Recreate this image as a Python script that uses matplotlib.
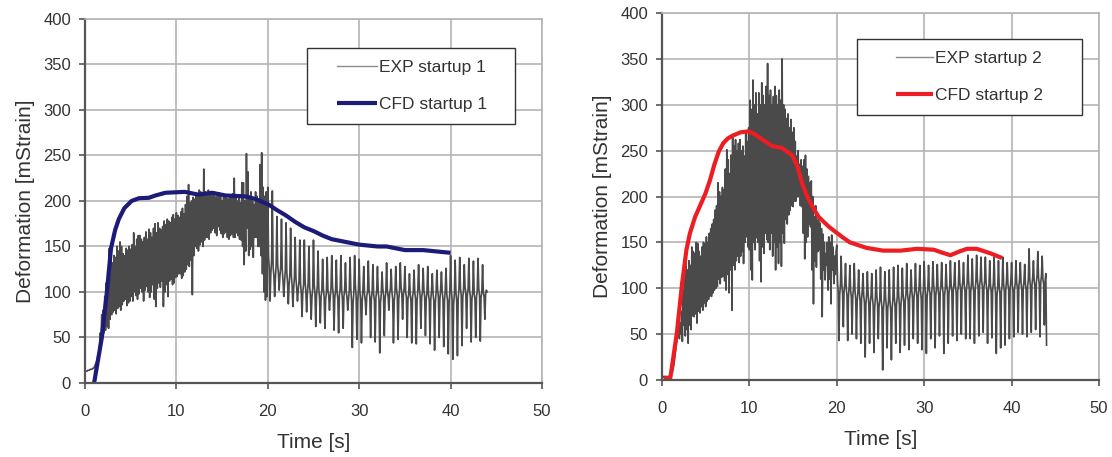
import numpy as np
import matplotlib
matplotlib.use("Agg")
import matplotlib.pyplot as plt
from matplotlib.legend_handler import HandlerLine2D

plt.rcParams["font.family"] = ["Liberation Sans", "DejaVu Sans"]

## Measured signal, read off the picture: 12 readings per second from t = 0 ##
## (one row per second) ##
exp_rate = 12

exp1 = [
    12, 13, 13, 13, 14, 14, 14, 15, 15, 15, 16, 16,
    17, 19, 21, 23, 26, 30, 34, 40, 55, 45, 75, 58,
    80, 55, 95, 58, 110, 62, 125, 60, 148, 70, 140, 75,
    132, 78, 140, 80, 138, 76, 150, 82, 145, 84, 155, 80,
    150, 86, 142, 90, 140, 92, 148, 85, 146, 88, 150, 90,
    147, 95, 152, 90, 165, 100, 150, 96, 158, 92, 162, 98,
    162, 104, 158, 100, 155, 90, 160, 102, 166, 106, 158, 100,
    169, 94, 165, 100, 160, 108, 170, 92, 175, 84, 165, 104,
    176, 110, 170, 105, 168, 112, 172, 84, 178, 100, 174, 108,
    180, 95, 178, 112, 176, 114, 182, 108, 185, 110, 180, 116,
    187, 117, 184, 120, 182, 120, 188, 115, 192, 118, 186, 122,
    196, 125, 205, 130, 218, 128, 198, 135, 200, 97, 204, 140,
    202, 150, 206, 148, 205, 145, 212, 152, 210, 155, 208, 150,
    235, 157, 210, 160, 206, 160, 212, 158, 208, 165, 210, 168,
    207, 170, 210, 165, 204, 162, 208, 172, 209, 168, 205, 164,
    200, 160, 204, 164, 206, 166, 203, 160, 202, 158, 206, 162,
    204, 164, 208, 160, 225, 160, 206, 165, 200, 162, 204, 158,
    198, 157, 220, 150, 220, 130, 200, 145, 252, 170, 232, 140,
    205, 147, 210, 150, 200, 138, 196, 160, 210, 160, 205, 150,
    202, 150, 240, 140, 253, 120, 215, 100, 205, 91, 210, 95,
    215, 140, 125, 90, 120, 135, 211, 128, 118, 95, 115, 130,
    183, 130, 120, 102, 118, 128, 180, 125, 112, 95, 110, 124,
    176, 122, 110, 87, 108, 120, 170, 118, 106, 84, 104, 116,
    160, 115, 104, 90, 102, 112, 157, 110, 98, 73, 100, 108,
    157, 112, 100, 78, 98, 110, 150, 106, 96, 70, 94, 104,
    157, 108, 98, 62, 96, 106, 145, 104, 92, 66, 95, 102,
    136, 104, 94, 60, 92, 100, 138, 102, 96, 80, 94, 104,
    140, 106, 96, 58, 94, 102, 135, 100, 92, 55, 96, 104,
    140, 102, 92, 60, 95, 104, 132, 100, 94, 80, 92, 102,
    138, 104, 90, 39, 88, 100, 140, 108, 95, 48, 90, 102,
    136, 100, 92, 44, 90, 104, 128, 98, 90, 75, 96, 100,
    134, 102, 94, 50, 92, 100, 130, 98, 90, 45, 94, 102,
    128, 100, 92, 33, 88, 98, 122, 104, 96, 52, 92, 100,
    132, 102, 95, 80, 98, 104, 125, 100, 92, 44, 90, 100,
    128, 104, 96, 48, 92, 102, 132, 106, 98, 70, 96, 104,
    128, 100, 94, 50, 92, 98, 120, 98, 90, 44, 94, 100,
    124, 100, 92, 43, 90, 102, 130, 104, 96, 60, 94, 100,
    126, 102, 94, 52, 92, 100, 128, 98, 90, 43, 92, 102,
    120, 98, 90, 36, 88, 100, 124, 102, 94, 50, 92, 104,
    122, 100, 92, 40, 90, 102, 126, 98, 90, 32, 88, 100,
    140, 102, 92, 26, 86, 98, 135, 100, 90, 30, 92, 104,
    138, 104, 96, 41, 94, 102, 130, 106, 98, 60, 96, 104,
    137, 102, 94, 45, 92, 100, 134, 98, 92, 50, 94, 102,
    137, 104, 96, 46, 94, 100, 130, 100, 94, 70, 98, 102,
    100,
]

exp2 = [
    3, 4, 3, 4, 3, 4, 3, 4, 3, 4, 3, 4,
    5, 6, 8, 11, 15, 20, 28, 34, 40, 46, 52, 48,
    45, 62, 50, 75, 42, 98, 60, 110, 48, 142, 55, 120,
    40, 130, 60, 125, 55, 145, 70, 140, 69, 138, 72, 150,
    62, 149, 75, 140, 73, 135, 80, 145, 76, 150, 84, 148,
    80, 156, 86, 150, 88, 160, 92, 165, 91, 170, 95, 175,
    98, 185, 100, 190, 102, 215, 110, 205, 105, 200, 112, 210,
    113, 207, 108, 230, 98, 251, 115, 240, 95, 225, 120, 245,
    76, 265, 125, 255, 120, 262, 130, 250, 135, 258, 128, 262,
    135, 250, 140, 255, 127, 244, 150, 270, 156, 260, 145, 275,
    142, 305, 120, 295, 109, 327, 150, 300, 142, 313, 155, 290,
    150, 313, 130, 300, 107, 324, 145, 310, 138, 300, 160, 320,
    153, 345, 150, 310, 142, 316, 160, 300, 135, 309, 150, 320,
    120, 310, 145, 300, 127, 316, 150, 305, 124, 350, 160, 300,
    149, 295, 175, 285, 170, 290, 180, 275, 185, 284, 190, 270,
    189, 275, 195, 260, 195, 244, 200, 250, 200, 235, 190, 240,
    189, 233, 160, 240, 132, 245, 150, 230, 156, 222, 170, 215,
    167, 217, 120, 200, 83, 178, 130, 190, 123, 174, 140, 180,
    142, 171, 110, 165, 69, 159, 120, 150, 109, 138, 125, 150,
    98, 156, 110, 150, 83, 158, 120, 145, 105, 135, 115, 140,
    147, 108, 96, 43, 92, 104, 135, 104, 94, 58, 96, 106,
    127, 100, 92, 43, 90, 102, 125, 98, 90, 50, 92, 100,
    127, 98, 88, 45, 86, 96, 120, 96, 86, 40, 88, 98,
    116, 92, 84, 25, 82, 94, 118, 94, 82, 40, 84, 92,
    116, 90, 80, 30, 78, 90, 120, 92, 82, 45, 80, 88,
    123, 88, 78, 11, 76, 88, 118, 90, 80, 35, 78, 86,
    120, 86, 76, 22, 78, 88, 123, 90, 80, 40, 82, 90,
    125, 92, 82, 30, 80, 92, 122, 94, 84, 38, 86, 94,
    127, 96, 86, 33, 88, 98, 120, 98, 88, 45, 90, 98,
    127, 100, 90, 40, 92, 102, 125, 98, 88, 33, 90, 100,
    129, 102, 92, 29, 90, 100, 125, 100, 94, 45, 92, 102,
    129, 104, 94, 35, 92, 102, 126, 100, 92, 48, 96, 104,
    128, 102, 94, 29, 92, 100, 126, 104, 96, 40, 94, 102,
    130, 104, 96, 48, 98, 106, 128, 102, 94, 43, 96, 104,
    130, 106, 98, 50, 100, 108, 128, 104, 96, 45, 98, 106,
    136, 108, 98, 45, 96, 106, 132, 104, 96, 40, 98, 108,
    136, 110, 100, 48, 102, 110, 134, 108, 100, 52, 100, 108,
    134, 106, 98, 40, 96, 104, 130, 104, 96, 46, 98, 106,
    134, 104, 94, 29, 92, 102, 130, 102, 94, 35, 96, 104,
    134, 106, 96, 38, 98, 108, 128, 104, 98, 45, 100, 108,
    128, 104, 96, 47, 98, 106, 130, 106, 100, 52, 102, 110,
    128, 106, 98, 50, 100, 108, 126, 104, 98, 47, 102, 110,
    143, 110, 100, 52, 104, 112, 130, 108, 102, 55, 106, 114,
    140, 112, 104, 47, 106, 114, 135, 110, 104, 60, 108, 116,
    38,
]

## CFD curves ##
cfd1_t = [1.0, 1.85, 2.4, 2.85, 3.3, 3.7, 4.3, 5.1, 5.9, 7.0, 7.7, 8.8, 10.9, 12.4,
          13.9, 15.4, 17.6, 18.7, 20.1, 21, 22, 23, 24, 25, 26, 27, 28, 29, 30, 31,
          32, 33, 34, 35, 36, 37, 38, 39, 40]
cfd1_y = [0, 50, 100, 148, 168, 180, 192, 200, 203, 203.5, 206, 209, 210, 207,
          209, 206, 205, 202, 196, 190, 184, 177, 171, 167, 162, 158, 156, 154, 152, 151,
          150, 150, 148, 146, 146, 146, 145, 144, 143]

cfd2_t = [0.2, 0.95, 1.7, 2.3, 2.8, 3.2, 3.8, 4.5, 5.0, 5.5, 6.0, 6.5, 7.0, 7.5,
          8.0, 9.0, 9.9, 10.6, 11.5, 12.6, 13.7, 14.9, 15.5, 16.0, 16.8, 17.9,
          19.1, 20.6, 21.5, 23.4, 25.3, 27.3, 29.2, 31.1, 32.0, 33.0, 34.0, 34.9,
          36.0, 37.6, 38.9]
cfd2_y = [2, 2, 51, 105, 142, 160, 178, 193, 204, 218, 235, 249, 258, 263,
          266, 270, 271, 268, 262, 255, 253, 245, 233, 215, 196, 178,
          167, 156, 150, 144, 141, 141, 143, 142, 139, 136, 140, 143,
          143, 138, 133]

x_ticks = [0, 10, 20, 30, 40, 50]
y_ticks = [0, 50, 100, 150, 200, 250, 300, 350, 400]


def style_axes(ax):
    ax.set_xlim(0, 50)
    ax.set_ylim(0, 400)
    ax.set_xticks(x_ticks)
    ax.set_yticks(y_ticks)
    ax.grid(True, color="#b4b4b4", lw=1.2)
    ax.set_axisbelow(True)
    for s in ["top", "right"]:
        ax.spines[s].set_color("#b4b4b4")
        ax.spines[s].set_linewidth(1.2)
    for s in ["left", "bottom"]:
        ax.spines[s].set_color("#555555")
        ax.spines[s].set_linewidth(1.6)
    ax.tick_params(direction="out", length=4, width=1.2, color="#555555",
                   labelsize=12, labelcolor="#333333")
    ax.tick_params(axis="x", pad=11)
    ax.tick_params(axis="y", pad=6)
    ax.set_xlabel("Time [s]", fontsize=15, color="#333333", labelpad=10)
    ax.set_ylabel("Deformation [mStrain]", fontsize=15, color="#333333", labelpad=6)


def draw_panel(ax, exp, cfd_t, cfd_y, cfd_color, n, bbox, xpad, hlen):
    t = np.arange(len(exp)) / exp_rate
    h_exp, = ax.plot(t, exp, color="#4a4a4a", lw=1.2, label="EXP startup %d" % n)
    h_cfd, = ax.plot(cfd_t, cfd_y, color=cfd_color, lw=3, label="CFD startup %d" % n,
                     solid_capstyle="butt", solid_joinstyle="round")
    style_axes(ax)
    leg = ax.legend(handles=[h_exp, h_cfd], loc="upper left", bbox_to_anchor=bbox,
                    mode="expand", borderaxespad=0, fontsize=12.5, fancybox=False,
                    framealpha=1, edgecolor="#333333", borderpad=0.7,
                    labelspacing=1.25, handlelength=hlen, handletextpad=0.12,
                    handler_map={h_exp: HandlerLine2D(xpad=xpad),
                                 h_cfd: HandlerLine2D(xpad=xpad)})
    leg.get_frame().set_linewidth(1.0)
    leg.get_lines()[0].set_linewidth(1.0)
    leg.get_lines()[0].set_color("#8a8a8a")
    for txt in leg.get_texts():
        txt.set_color("#333333")


fig = plt.figure(figsize=(11.12, 4.57), dpi=100)
ax1 = fig.add_axes([0.0764, 0.162, 0.411, 0.7965])
ax2 = fig.add_axes([0.5953, 0.1685, 0.393, 0.803])

draw_panel(ax1, exp1, cfd1_t, cfd1_y, "#1c1c78", 1,
           (0.486, 0.698, 0.455, 0.222), 1.04, 3.34)
draw_panel(ax2, exp2, cfd2_t, cfd2_y, "#ee1d23", 2,
           (0.446, 0.706, 0.515, 0.223), 1.56, 3.69)

fig.savefig("out.png", dpi=100)
